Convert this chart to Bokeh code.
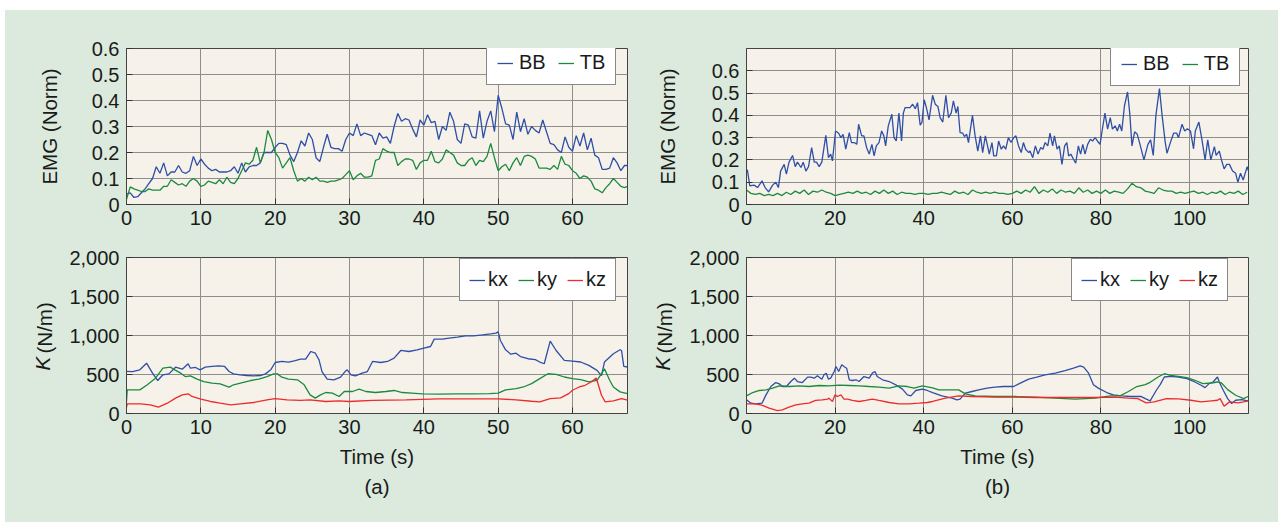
import math
from bokeh.plotting import figure
from bokeh.models import (Legend, LegendItem, FixedTicker, Label, Title, Spacer, Range1d)
from bokeh.layouts import column, row
from bokeh.embed import file_html
from bokeh.resources import INLINE

# ---------------- data: panel (a) EMG ----------------
T_EMG_A = [0, 0.5, 1, 1.5, 2, 2.5, 3, 3.5, 4, 4.5, 5, 5.5, 6, 6.5, 7, 7.5, 8, 8.5, 9, 9.5,
           10, 10.5, 11, 11.5, 12, 12.5, 13, 13.5, 14, 14.5, 15, 15.5, 16, 16.5, 17, 17.5, 18, 18.5, 19, 19.5,
           20, 20.5, 21, 21.5, 22, 22.5, 23, 23.5, 24, 24.5, 25, 25.5, 26, 26.5, 27, 27.5, 28, 28.5, 29, 29.5,
           30, 30.5, 31, 31.5, 32, 32.5, 33, 33.5, 34, 34.5, 35, 35.5, 36, 36.5, 37, 37.5, 38, 38.5, 39, 39.5,
           40, 40.5, 41, 41.5, 42, 42.5, 43, 43.5, 44, 44.5, 45, 45.5, 46, 46.5, 47, 47.5, 48, 48.5, 49, 49.5,
           50, 50.5, 51, 51.5, 52, 52.5, 53, 53.5, 54, 54.5, 55, 55.5, 56, 56.5, 57, 57.5, 58, 58.5, 59, 59.5,
           60, 60.5, 61, 61.5, 62, 62.5, 63, 63.5, 64, 64.5, 65, 65.5, 66, 66.5, 67, 67.4]
BB_A = [0.04, 0.045, 0.027, 0.03, 0.045, 0.06, 0.08, 0.1, 0.145, 0.12,
        0.16, 0.11, 0.125, 0.125, 0.15, 0.125, 0.12, 0.13, 0.185, 0.15,
        0.175, 0.155, 0.14, 0.13, 0.135, 0.125, 0.125, 0.125, 0.13, 0.145,
        0.12, 0.16, 0.125, 0.145, 0.15, 0.15, 0.16, 0.2, 0.2, 0.2,
        0.22, 0.235, 0.235, 0.23, 0.19, 0.165, 0.2, 0.245, 0.225, 0.275,
        0.25, 0.18, 0.165, 0.22, 0.27, 0.22, 0.215, 0.215, 0.205, 0.25,
        0.275, 0.265, 0.31, 0.265, 0.275, 0.27, 0.265, 0.23, 0.275, 0.255,
        0.26, 0.235, 0.3, 0.35, 0.32, 0.33, 0.325, 0.29, 0.26, 0.325,
        0.305, 0.345, 0.315, 0.32, 0.25, 0.3, 0.285, 0.355, 0.32, 0.25,
        0.235, 0.31, 0.305, 0.26, 0.255, 0.36, 0.255, 0.32, 0.36, 0.28,
        0.42, 0.37, 0.31, 0.305, 0.25, 0.355, 0.28, 0.33, 0.27, 0.3,
        0.285, 0.275, 0.325, 0.28, 0.235, 0.23, 0.21, 0.2, 0.26, 0.22,
        0.205, 0.265, 0.225, 0.275, 0.21, 0.255, 0.19, 0.18, 0.135, 0.135,
        0.14, 0.18, 0.16, 0.13, 0.15, 0.15]
TB_A = [0.02, 0.068, 0.06, 0.055, 0.05, 0.05, 0.06, 0.055, 0.055, 0.055,
        0.07, 0.07, 0.095, 0.085, 0.075, 0.08, 0.07, 0.09, 0.1, 0.09,
        0.07, 0.075, 0.09, 0.085, 0.08, 0.095, 0.08, 0.105, 0.085, 0.08,
        0.1, 0.13, 0.16, 0.155, 0.17, 0.22, 0.16, 0.2, 0.285, 0.25,
        0.2, 0.18, 0.14, 0.16, 0.18, 0.13, 0.09, 0.1, 0.09, 0.105,
        0.095, 0.105, 0.09, 0.09, 0.085, 0.09, 0.09, 0.095, 0.1, 0.115,
        0.13, 0.095, 0.11, 0.12, 0.105, 0.105, 0.11, 0.17, 0.175, 0.215,
        0.205, 0.2, 0.2, 0.15, 0.165, 0.175, 0.175, 0.17, 0.135, 0.16,
        0.17, 0.17, 0.205, 0.165, 0.16, 0.175, 0.21, 0.2, 0.19, 0.16,
        0.15, 0.15, 0.17, 0.18, 0.15, 0.17, 0.165, 0.185, 0.235, 0.18,
        0.13, 0.145, 0.155, 0.13, 0.16, 0.18, 0.15, 0.185, 0.19, 0.185,
        0.175, 0.14, 0.14, 0.14, 0.135, 0.15, 0.135, 0.185, 0.155, 0.15,
        0.13, 0.12, 0.1, 0.11, 0.105, 0.09, 0.06, 0.055, 0.045, 0.065,
        0.08, 0.1, 0.085, 0.07, 0.065, 0.07]

# ---------------- data: panel (b) EMG ----------------
T_BB_B = [0, 0.2, 0.75, 1.7, 2.5, 3.5, 4.2, 5, 5.9, 6.6, 7.2, 7.7, 8.5, 9, 9.6, 10.4, 11, 11.5, 12.3, 12.8,
          13.4, 14, 14.7, 15.3, 15.8, 16.4, 17, 17.9, 18.5, 19, 19.4, 20.1, 20.8, 21.3, 21.8, 22.4, 23.2, 23.7, 24.3, 24.9,
          25.3, 26, 26.5, 27.1, 27.7, 28.3, 28.8, 29.3, 29.9, 30.5, 31, 31.4, 32, 32.8, 33.3, 33.8, 34.4, 35, 35.4, 35.8,
          36.3, 36.9, 37.5, 38.1, 38.6, 39.2, 39.6, 40.1, 40.6, 41.2, 42, 42.6, 43.2, 43.7, 44.3, 45, 45.6, 46.2, 46.7, 47.3,
          47.7, 48.2, 48.8, 49.2, 49.7, 50.1, 51, 51.6, 52.2, 52.8, 53.3, 53.9, 54.4, 54.8, 55.4, 55.8, 56.4, 56.9, 57.5, 58,
          58.5, 59.1, 59.7, 60.3, 60.8, 61.4, 62, 62.5, 63, 63.7, 64, 64.6, 65.2, 65.8, 66.4, 66.9, 67.4, 68, 68.5, 69.1,
          69.5, 70.1, 70.6, 71.2, 71.8, 72.3, 72.7, 73.2, 73.8, 74.3, 74.9, 75.4, 75.9, 76.4, 77, 77.6, 78.1, 78.7, 79.2, 79.8,
          80.2, 80.9, 81.5, 82.1, 82.6, 83.2, 83.7, 84.2, 84.7, 85.3, 86, 86.5, 87, 87.6, 88.2, 88.9, 89.7, 90.6, 91.2, 91.8,
          92.4, 93.2, 93.8, 94.5, 94.9, 95.7, 96.4, 97.1, 97.5, 98.3, 98.9, 99.5, 100.2, 100.9, 101.3, 102.1, 102.8, 103.5, 104.1, 104.8,
          105.6, 106, 106.7, 107.2, 107.8, 108.4, 109, 109.7, 110.4, 110.9, 111.5, 112.1, 113, 113.3]
BB_B = [0.15, 0.155, 0.084, 0.087, 0.076, 0.106, 0.076, 0.057, 0.087, 0.1, 0.076, 0.15, 0.18, 0.136, 0.19, 0.22, 0.17, 0.19, 0.166, 0.19,
        0.15, 0.17, 0.255, 0.19, 0.19, 0.17, 0.19, 0.31, 0.21, 0.226, 0.196, 0.33, 0.32, 0.3, 0.315, 0.248, 0.323, 0.278, 0.278, 0.27,
        0.36, 0.308, 0.308, 0.256, 0.226, 0.27, 0.218, 0.263, 0.278, 0.33, 0.308, 0.263, 0.353, 0.405, 0.3, 0.285, 0.41, 0.285, 0.41, 0.435,
        0.435, 0.435, 0.45, 0.43, 0.457, 0.356, 0.368, 0.47, 0.435, 0.38, 0.49, 0.45, 0.44, 0.39, 0.37, 0.49, 0.39, 0.41, 0.465, 0.41,
        0.44, 0.323, 0.32, 0.305, 0.315, 0.278, 0.4, 0.308, 0.24, 0.308, 0.233, 0.308, 0.263, 0.226, 0.278, 0.218, 0.218, 0.285, 0.248, 0.263,
        0.248, 0.3, 0.278, 0.3, 0.308, 0.263, 0.233, 0.278, 0.248, 0.233, 0.24, 0.21, 0.263, 0.226, 0.256, 0.248, 0.278, 0.263, 0.32, 0.263,
        0.308, 0.248, 0.263, 0.18, 0.263, 0.278, 0.218, 0.226, 0.203, 0.185, 0.263, 0.226, 0.27, 0.226, 0.27, 0.293, 0.285, 0.3, 0.285, 0.27,
        0.323, 0.41, 0.338, 0.39, 0.338, 0.353, 0.33, 0.36, 0.33, 0.442, 0.505, 0.41, 0.263, 0.326, 0.315, 0.263, 0.2, 0.27, 0.29, 0.22,
        0.4, 0.52, 0.4, 0.28, 0.23, 0.28, 0.32, 0.32, 0.3, 0.36, 0.33, 0.34, 0.33, 0.25, 0.33, 0.37, 0.29, 0.2, 0.29, 0.2,
        0.26, 0.22, 0.24, 0.2, 0.16, 0.18, 0.18, 0.15, 0.14, 0.1, 0.14, 0.11, 0.17, 0.15]
T_TB_B = [0, 1, 2, 3, 4, 5, 6, 7, 8, 9, 10, 11, 12, 13, 14, 15, 16, 17, 18, 19,
          20, 21, 22, 23, 24, 25, 26, 27, 28, 29, 30, 31, 32, 33, 34, 35, 36, 37, 38, 39,
          40, 41, 42, 43, 44, 45, 46, 47, 48, 49, 50, 51, 52, 53, 54, 55, 56, 57, 58, 59,
          60, 61, 62, 63, 64, 65, 66, 67, 68, 69, 70, 71, 72, 73, 74, 75, 76, 77, 78, 79,
          80, 81, 82, 83, 84, 85, 86, 87, 88, 89, 90, 91, 92, 93, 94, 95, 96, 97, 98, 99,
          100, 101, 102, 103, 104, 105, 106, 107, 108, 109, 110, 111, 112, 113]
TB_B = [0.065, 0.05, 0.045, 0.05, 0.04, 0.045, 0.04, 0.05, 0.04, 0.055, 0.045, 0.06, 0.05, 0.065, 0.045, 0.06, 0.055, 0.065, 0.055, 0.05,
        0.04, 0.045, 0.05, 0.055, 0.05, 0.06, 0.05, 0.055, 0.045, 0.06, 0.05, 0.065, 0.05, 0.06, 0.045, 0.055, 0.05, 0.05, 0.045, 0.05,
        0.05, 0.045, 0.05, 0.05, 0.055, 0.05, 0.045, 0.06, 0.05, 0.055, 0.045, 0.065, 0.055, 0.05, 0.055, 0.05, 0.055, 0.05, 0.05, 0.045,
        0.05, 0.06, 0.05, 0.065, 0.055, 0.08, 0.05, 0.065, 0.055, 0.07, 0.05, 0.065, 0.055, 0.06, 0.05, 0.075, 0.055, 0.065, 0.05, 0.06,
        0.05, 0.065, 0.05, 0.06, 0.055, 0.05, 0.07, 0.095, 0.08, 0.075, 0.06, 0.055, 0.05, 0.075, 0.065, 0.06, 0.06, 0.05, 0.055, 0.05,
        0.055, 0.06, 0.05, 0.055, 0.045, 0.055, 0.05, 0.06, 0.045, 0.055, 0.05, 0.06, 0.045, 0.055]

# ---------------- data: panel (a) stiffness ----------------
T_KX_A = [0, 0.8, 1.8, 2.7, 3.5, 4.2, 4.9, 5.7, 6.6, 7.5, 8.3, 8.6, 9.3, 9.9, 10.6, 11.5, 12.4, 13.2, 13.8, 14.4,
          15.3, 16.2, 17.1, 18, 18.7, 19.4, 20, 20.9, 21.8, 22.7, 23.4, 24.1, 24.8, 25.4, 25.9, 26.3, 27, 27.9, 28.8, 29.4,
          29.7, 30.2, 30.8, 31.7, 32.4, 33.1, 34.2, 35.1, 36, 36.9, 38, 39.1, 40, 40.9, 41.4, 42.5, 43.4, 44.5, 45.6, 46.7,
          47.9, 49, 49.7, 50, 50.3, 51, 51.7, 52.4, 53, 54, 55, 55.6, 56.2, 57, 57.8, 58.9, 60, 61.1, 62.2, 63.3,
          63.9, 64.3, 65.5, 66.4, 66.6, 66.9, 67.4]
KX_A = [540, 538, 560, 645, 517, 423, 496, 508, 594, 568, 637, 581, 590, 560, 594, 603, 611, 603, 538, 508,
        496, 487, 483, 487, 508, 560, 654, 667, 658, 679, 697, 697, 795, 773, 688, 538, 440, 432, 466, 538,
        560, 496, 483, 517, 538, 667, 654, 667, 709, 808, 795, 816, 838, 859, 953, 953, 966, 979, 996, 996,
        1008, 1021, 1030, 1047, 936, 816, 761, 773, 730, 702, 690, 660, 638, 928, 808, 681, 672, 660, 617, 553,
        485, 660, 766, 817, 808, 604, 596]
T_KY_A = [0, 0.1, 1.8, 2.8, 3.9, 4.9, 5.9, 6.5, 7.3, 7.9, 8.6, 9.5, 10.4, 11.5, 12.6, 13.8, 14.4, 15.6, 16.7, 17.8,
          18.9, 19.8, 20.3, 20.9, 21.8, 23, 23.9, 24.7, 25.4, 26.1, 26.8, 27.7, 28.6, 29.3, 30.4, 31.3, 32.2, 33.5, 34.9, 36,
          37.1, 38.4, 39.8, 42, 44.3, 46.5, 48.8, 50, 51, 52.4, 53.4, 54.5, 55.6, 56.7, 57.8, 58.9, 60, 61.1, 62.2, 63.3,
          63.9, 64.3, 65, 65.5, 66.4, 67.4]
KY_A = [150, 303, 303, 368, 453, 581, 594, 560, 517, 474, 483, 440, 410, 389, 380, 338, 368, 397, 423, 440,
        474, 508, 508, 466, 440, 432, 368, 239, 197, 239, 269, 261, 218, 282, 282, 312, 282, 269, 282, 295,
        269, 261, 252, 248, 252, 252, 256, 261, 303, 320, 340, 383, 447, 510, 502, 468, 447, 434, 404, 426,
        510, 574, 426, 340, 277, 255]
T_KZ_A = [0, 0.1, 1.9, 3.2, 4.3, 5.5, 6.6, 7.5, 8.3, 8.8, 10, 11.3, 12.6, 14, 15.3, 17.1, 18.9, 20, 21.6, 23.4,
          24.7, 26.8, 28.6, 29.9, 33.1, 37.6, 42, 46.5, 50, 52.4, 54.5, 55.6, 57, 58.4, 59.5, 60, 60.9, 61.7, 62.5, 63.2,
          63.9, 64.4, 65.5, 66.6, 67.4]
KZ_A = [80, 124, 124, 111, 81, 132, 197, 239, 252, 218, 184, 154, 132, 111, 124, 141, 175, 192, 175, 167,
        175, 154, 162, 154, 167, 175, 188, 188, 188, 175, 157, 149, 191, 200, 255, 298, 340, 362, 404, 455,
        234, 149, 162, 191, 170]

# ---------------- data: panel (b) stiffness ----------------
T_KX_B = [0, 1, 2.1, 3.5, 4.4, 5.5, 6.6, 7.4, 8.1, 9, 10, 10.8, 11.5, 12.6, 13.8, 14.5, 15.3, 16, 17, 17.5,
          18, 18.5, 19, 19.8, 20.2, 20.8, 21.5, 22, 22.6, 23.2, 23.9, 24.7, 25.4, 26.5, 27.7, 28.4, 29, 29.5, 30.7, 32.2,
          33.7, 35.2, 36.3, 37.1, 38.2, 39.7, 40.8, 42, 44.1, 46.4, 47.5, 48.2, 49.4, 50.9, 52.4, 54.3, 56.1, 58, 60.3, 61.8,
          63.7, 65.5, 67.4, 69.7, 71.9, 73.8, 75.3, 76.1, 77.2, 78.3, 79.4, 81.3, 82.8, 84.7, 86.6, 88.1, 89, 90, 91.1, 92.5,
          93.4, 94.3, 95.7, 97.5, 99.4, 101.2, 102.6, 103.5, 104.4, 105.3, 106.3, 106.7, 107.6, 108.6, 109.5, 110.4, 111.8, 113, 113.3]
KX_B = [175, 132, 124, 132, 239, 346, 397, 380, 346, 346, 410, 453, 410, 397, 466, 466, 453, 483, 440, 496,
        517, 440, 453, 538, 603, 538, 624, 603, 581, 432, 423, 432, 410, 474, 453, 517, 538, 474, 432, 410,
        368, 312, 239, 226, 295, 312, 295, 269, 226, 197, 175, 184, 261, 282, 303, 325, 338, 346, 346, 389,
        440, 466, 496, 517, 551, 581, 611, 594, 517, 368, 325, 269, 239, 226, 218, 218, 220, 190, 162, 298,
        374, 468, 477, 468, 447, 404, 362, 332, 383, 404, 468, 404, 298, 191, 128, 170, 179, 162, 170]
T_KY_B = [0, 1.4, 2.9, 4.4, 5.9, 7.4, 9.6, 11.9, 14.1, 16.4, 18.6, 20.9, 23.2, 25.4, 27.7, 29.9, 32.2, 34.4, 36.3, 37.8,
          39.7, 42, 43.4, 45.6, 47.9, 49.4, 51.6, 56.1, 60.6, 65.2, 69.7, 74.2, 78.7, 82.1, 84.3, 86.2, 88.1, 90, 91.1, 92.9,
          94.3, 95.7, 97.5, 99.4, 101.2, 103, 104.9, 106.3, 107.2, 108.6, 110.4, 112.2, 113.3]
KY_B = [226, 269, 295, 303, 325, 355, 346, 355, 346, 359, 355, 363, 359, 355, 346, 338, 325, 355, 346, 325,
        355, 329, 303, 303, 303, 252, 226, 218, 218, 209, 197, 184, 197, 226, 226, 282, 346, 370, 400, 468,
        510, 489, 477, 460, 426, 383, 391, 404, 391, 306, 234, 191, 221]
T_KZ_B = [0, 2.1, 3.6, 5.1, 7, 8.1, 9.6, 11.1, 12.6, 14.1, 15.6, 17.1, 18.3, 18.6, 19.4, 20, 20.5, 21.3, 22, 22.8,
          23.9, 25.4, 26.9, 28.4, 29.9, 32.2, 34.4, 36.7, 38.9, 40.8, 42, 44.9, 47.9, 50.9, 56.1, 60.6, 65.2, 69.7, 74.2, 78.7,
          83.2, 86.2, 88.3, 90.2, 92, 94.8, 97.5, 100.3, 102.6, 104.9, 106.3, 106.9, 107.8, 109, 110.9, 112.2, 113.3]
KZ_B = [124, 124, 103, 68, 38, 47, 81, 111, 124, 132, 167, 175, 184, 197, 154, 239, 218, 239, 184, 184,
        167, 154, 167, 184, 167, 141, 124, 124, 132, 141, 154, 197, 226, 218, 209, 209, 205, 205, 205, 205,
        209, 197, 191, 136, 149, 191, 187, 170, 149, 162, 170, 191, 94, 149, 136, 149, 162]

# ---------------- axes / labels ----------------
X_TICKS_A = [0, 10, 20, 30, 40, 50, 60]
X_TICKS_B = [0, 20, 40, 60, 80, 100]
EMG_TICKS = [0, 0.1, 0.2, 0.3, 0.4, 0.5, 0.6]
EMG_LABELS = ["0", "0.1", "0.2", "0.3", "0.4", "0.5", "0.6"]
K_TICKS = [0, 500, 1000, 1500, 2000]
K_LABELS = ["0", "500", "1,000", "1,500", "2,000"]

FONT = "Liberation Sans"
BG = "#dbeadc"
PLOT_BG = "#f6f2ea"
BLUE = "#2f4fa6"
GREEN = "#1b8a3e"
RED = "#ec2b2b"
TXT = "#1a1a1a"
TICK_FS = "20px"
LABEL_FS = "20.5px"


def make_fig(w, h, left, right, top, bottom, xr, yr, xticks, yticks, ylabels):
    p = figure(width=w, height=h, output_backend="svg", toolbar_location=None,
               x_range=Range1d(*xr), y_range=Range1d(*yr),
               min_border_left=left, min_border_right=right,
               min_border_top=top, min_border_bottom=bottom,
               background_fill_color=PLOT_BG, border_fill_color=BG,
               outline_line_color="#444444", outline_line_width=1)
    p.xaxis.ticker = FixedTicker(ticks=xticks)
    p.yaxis.ticker = FixedTicker(ticks=yticks)
    p.xgrid.ticker = FixedTicker(ticks=xticks)
    p.ygrid.ticker = FixedTicker(ticks=yticks)
    p.xaxis.major_label_overrides = {t: str(t) for t in xticks}
    p.yaxis.major_label_overrides = {t: l for t, l in zip(yticks, ylabels)}
    for ax in (p.xaxis[0], p.yaxis[0]):
        ax.major_label_text_font = FONT
        ax.major_label_text_font_size = TICK_FS
        ax.major_label_text_color = TXT
        ax.major_tick_in = 6
        ax.major_tick_out = 0
        ax.major_tick_line_color = "#333333"
        ax.minor_tick_line_color = None
        ax.axis_line_color = "#444444"
        ax.axis_label_text_font = FONT
        ax.axis_label_text_font_style = "normal"
        ax.axis_label_text_font_size = LABEL_FS
        ax.axis_label_text_color = TXT
    p.xaxis.major_label_standoff = 6
    p.yaxis.major_label_standoff = 7
    p.grid.grid_line_color = "#8e8e8e"
    p.grid.grid_line_width = 1
    return p


def add_legend(p, items, x, y, standoff, spacing, padding):
    lg = Legend(items=[LegendItem(label=l, renderers=[r]) for l, r in items],
                orientation="horizontal", location=(x, y), margin=0,
                label_text_font=FONT, label_text_font_size="20px", label_text_color=TXT,
                glyph_width=16, glyph_height=12, label_height=12,
                label_standoff=standoff, spacing=spacing, padding=padding,
                border_line_color="#111111", border_line_width=1.5,
                background_fill_color="white", background_fill_alpha=1)
    p.add_layout(lg)


LW = 1.3

# ---- (a) EMG ----
a1 = make_fig(635, 232, 121, 13, 38, 38, (0, 67.4), (0, 0.6), X_TICKS_A, EMG_TICKS, EMG_LABELS)
a1.yaxis.axis_label = "EMG (Norm)"
a1.yaxis.axis_label_standoff = 28
r1 = a1.line(T_EMG_A, BB_A, line_color=BLUE, line_width=LW)
r2 = a1.line(T_EMG_A, TB_A, line_color=GREEN, line_width=LW)
add_legend(a1, [("BB", r1), ("TB", r2)], 360, 119, 6, 12, 10)

# ---- (b) EMG ----
b1 = make_fig(638, 232, 106, 30, 38, 38, (0, 113.3), (0, 0.7), X_TICKS_B, EMG_TICKS, EMG_LABELS)
b1.yaxis.axis_label = "EMG (Norm)"
b1.yaxis.axis_label_standoff = 30
r3 = b1.line(T_BB_B, BB_B, line_color=BLUE, line_width=LW)
r4 = b1.line(T_TB_B, TB_B, line_color=GREEN, line_width=LW)
add_legend(b1, [("BB", r3), ("TB", r4)], 364, 118, 6, 12, 10)

# ---- (a) stiffness ----
a2 = make_fig(635, 280, 121, 13, 15, 109, (0, 67.4), (0, 2000), X_TICKS_A, K_TICKS, K_LABELS)
a2.xaxis.axis_label = "Time (s)"
a2.xaxis.axis_label_standoff = 8
r5 = a2.line(T_KX_A, KX_A, line_color=BLUE, line_width=LW)
r6 = a2.line(T_KY_A, KY_A, line_color=GREEN, line_width=LW)
r7 = a2.line(T_KZ_A, KZ_A, line_color=RED, line_width=LW)
add_legend(a2, [("kx", r5), ("ky", r6), ("kz", r7)], 333, 112, 3, 10, 9)
a2.add_layout(Title(text="(a)", align="center", text_font=FONT, text_font_size=LABEL_FS,
                    text_font_style="normal", text_color=TXT, standoff=4), "below")

# ---- (b) stiffness ----
b2 = make_fig(638, 280, 106, 30, 15, 109, (0, 113.3), (0, 2000), X_TICKS_B, K_TICKS, K_LABELS)
b2.xaxis.axis_label = "Time (s)"
b2.xaxis.axis_label_standoff = 8
r8 = b2.line(T_KX_B, KX_B, line_color=BLUE, line_width=LW)
r9 = b2.line(T_KY_B, KY_B, line_color=GREEN, line_width=LW)
r10 = b2.line(T_KZ_B, KZ_B, line_color=RED, line_width=LW)
add_legend(b2, [("kx", r8), ("ky", r9), ("kz", r10)], 325, 112, 3, 10, 9)
b2.add_layout(Title(text="(b)", align="center", text_font=FONT, text_font_size=LABEL_FS,
                    text_font_style="normal", text_color=TXT, standoff=4), "below")

# y-axis label "K (N/m)" with an italic K, drawn in the left side panels
for p in (a2, b2):
    p.add_layout(Label(x=-1, y=43, x_units="screen", y_units="screen", text="K",
                       angle=math.pi / 2, text_font=FONT, text_font_size=LABEL_FS,
                       text_font_style="italic", text_color=TXT,
                       text_align="left", text_baseline="middle"), "left")
    p.add_layout(Label(x=24, y=60, x_units="screen", y_units="screen", text="(N/m)",
                       angle=math.pi / 2, text_font=FONT, text_font_size=LABEL_FS,
                       text_font_style="normal", text_color=TXT,
                       text_align="left", text_baseline="middle"), "left")

grid = column(row(a1, b1, styles={"background-color": BG}),
              row(a2, b2, styles={"background-color": BG}),
              styles={"background-color": BG})
layout = column(
    Spacer(width=1278, height=10),
    row(Spacer(width=5, height=512), grid),
)

open("out.html", "w").write(file_html(layout, INLINE))
